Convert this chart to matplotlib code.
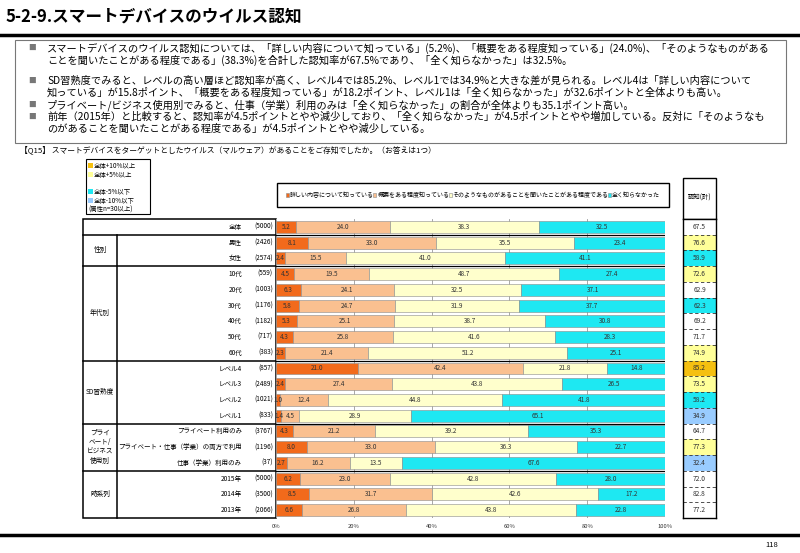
import matplotlib
matplotlib.use('Agg')
import matplotlib.pyplot as plt
from matplotlib.patches import Rectangle
from matplotlib.lines import Line2D

plt.rcParams['font.family'] = ['Noto Sans CJK JP', 'DejaVu Sans']

# ---------------- data ----------------
title = '5-2-9.スマートデバイスのウイルス認知'
bullet_lines = [
    ['スマートデバイスのウイルス認知については、「詳しい内容について知っている」(5.2%)、「概要をある程度知っている」(24.0%)、「そのようなものがある',
     'ことを聞いたことがある程度である」(38.3%)を合計した認知率が67.5%であり、「全く知らなかった」は32.5%。'],
    ['SD習熟度でみると、レベルの高い層ほど認知率が高く、レベル4では85.2%、レベル1では34.9%と大きな差が見られる。レベル4は「詳しい内容について',
     '知っている」が15.8ポイント、「概要をある程度知っている」が18.2ポイント、レベル1は「全く知らなかった」が32.6ポイントと全体よりも高い。'],
    ['プライベート/ビジネス使用別でみると、仕事（学業）利用のみは「全く知らなかった」の割合が全体よりも35.1ポイント高い。'],
    ['前年（2015年）と比較すると、認知率が4.5ポイントとやや減少しており、「全く知らなかった」が4.5ポイントとやや増加している。反対に「そのようなも',
     'のがあることを聞いたことがある程度である」が4.5ポイントとやや減少している。'],
]
question = '【Q15】 スマートデバイスをターゲットとしたウイルス（マルウェア）があることをご存知でしたか。（お答えは1つ）'

series_names = ['詳しい内容について知っている', '概要をある程度知っている',
                'そのようなものがあることを聞いたことがある程度である', '全く知らなかった']
row_labels = ['全体', '男性', '女性', '10代', '20代', '30代', '40代', '50代', '60代',
              'レベル4', 'レベル3', 'レベル2', 'レベル1',
              'プライベート利用のみ', 'プライベート・仕事（学業）の両方で利用', '仕事（学業）利用のみ',
              '2015年', '2014年', '2013年']
row_n = [5000, 2426, 2574, 559, 1003, 1176, 1182, 717, 383, 857, 2489, 1021, 833,
         3767, 1196, 37, 5000, 3500, 2066]
detail = [5.2, 8.1, 2.4, 4.5, 6.3, 5.8, 5.3, 4.3, 2.3, 21.0, 2.4, 1.0, 1.4, 4.3, 8.0, 2.7, 6.2, 8.5, 6.6]
overview = [24.0, 33.0, 15.5, 19.5, 24.1, 24.7, 25.1, 25.8, 21.4, 42.4, 27.4, 12.4, 4.5, 21.2, 33.0, 16.2, 23.0, 31.7, 26.8]
heard = [38.3, 35.5, 41.0, 48.7, 32.5, 31.9, 38.7, 41.6, 51.2, 21.8, 43.8, 44.8, 28.9, 39.2, 36.3, 13.5, 42.8, 42.6, 43.8]
unaware = [32.5, 23.4, 41.1, 27.4, 37.1, 37.7, 30.8, 28.3, 25.1, 14.8, 26.5, 41.8, 65.1, 35.3, 22.7, 67.6, 28.0, 17.2, 22.8]
aware_total = [67.5, 76.6, 58.9, 72.6, 62.9, 62.3, 69.2, 71.7, 74.9, 85.2, 73.5, 58.2, 34.9,
               64.7, 77.3, 32.4, 72.0, 82.8, 77.2]
groups = [('', 0, 1), ('性別', 1, 3), ('年代別', 3, 9), ('SD習熟度', 9, 13),
          ('プライ\nベート/\nビジネス\n使用別', 13, 16), ('時系列', 16, 19)]
x_ticks = [0, 20, 40, 60, 80, 100]
legend_notes = ['全体+10%以上', '全体+5%以上', '', '全体-5%以下', '全体-10%以下', '(属性n=30以上)']

# ---------------- styles ----------------
seg_colors = ['#F26A1B', '#FAC090', '#FFFFCC', '#1EE8F2']
c_gold, c_yel, c_cyan, c_blue = '#F5C010', '#FFFF99', '#1EE8F2', '#99CCFF'
note_colors = [c_gold, c_yel, None, c_cyan, c_blue, None]

W, H = 800, 553
fig = plt.figure(figsize=(W / 100, H / 100), dpi=100)
fig.patch.set_facecolor('white')

ov = fig.add_axes([0, 0, 1, 1])
ov.set_xlim(0, W)
ov.set_ylim(H, 0)
ov.axis('off')

# title & rules
ov.text(6, 17, title, fontsize=12, fontweight='bold', va='center', ha='left')
ov.add_line(Line2D([0, W], [35, 35], color='black', lw=2.5))
ov.add_line(Line2D([0, W], [535, 535], color='black', lw=2.5))
ov.text(778, 545, '118', fontsize=5.5, ha='right', va='center')

# text box
ov.add_patch(Rectangle((15, 40), 771, 103, fill=False, ec='#777777', lw=0.8))
line_y = [[48, 60], [81, 93], [105], [117, 129]]
for lines, ys in zip(bullet_lines, line_y):
    ov.text(28, ys[0], '■', fontsize=5.5, color='#777777', va='center', ha='left')
    for t, y in zip(lines, ys):
        ov.text(47, y, t, fontsize=7.35, va='center', ha='left')
ov.text(20, 150, question, fontsize=5.6, va='center', ha='left')

# small highlight legend
ov.add_patch(Rectangle((86, 159), 64, 55, fill=False, ec='black', lw=0.8))
for i, (t, c) in enumerate(zip(legend_notes, note_colors)):
    y = 166 + i * 8.8
    if c is not None:
        ov.add_patch(Rectangle((88, y - 3), 5, 5, fc=c, ec='none'))
        ov.text(94, y, t, fontsize=4.6, va='center', ha='left')
    elif t:
        ov.text(88, y, t, fontsize=4.6, va='center', ha='left')

# ---------------- bar chart ----------------
n_rows = len(row_labels)
top_px, bot_px = 219, 518
x0_px, x1_px = 276, 665
ax = fig.add_axes([x0_px / W, 1 - bot_px / H, (x1_px - x0_px) / W, (bot_px - top_px) / H])
ax.set_ylim(n_rows - 0.5, -0.5)
ax.set_xlim(0, 100)
rows = list(range(n_rows))
series = [detail, overview, heard, unaware]
left = [0.0] * n_rows
handles = []
for vals, col, name in zip(series, seg_colors, series_names):
    b = ax.barh(rows, vals, left=left, height=0.76, color=col, edgecolor='#8a8a8a', linewidth=0.4,
                zorder=2, label=name)
    handles.append(b)
    for r, (v, l) in enumerate(zip(vals, left)):
        ax.text(l + v / 2, r, f'{v:.1f}', fontsize=4.6, ha='center', va='center', color='#333333', zorder=3)
    left = [l + v for l, v in zip(left, vals)]
ax.set_xticks(x_ticks)
ax.set_xticklabels([f'{t}%' for t in x_ticks], fontsize=4.2, color='#333333')
ax.tick_params(axis='x', length=0, pad=4)
ax.set_yticks([])
ax.grid(axis='x', color='#999999', lw=0.6, zorder=0)
ax.set_axisbelow(True)
for s in ax.spines.values():
    s.set_visible(False)
for name, g0, g1 in groups[1:]:
    ax.axhline(g0 - 0.5, color='black', lw=0.9, zorder=4)

fig.legend(handles=handles, labels=series_names, loc='center',
           bbox_to_anchor=(277 / W, 1 - 207 / H, 392 / W, 24 / H), mode='expand', ncol=4,
           fontsize=4.3, frameon=True, fancybox=False, edgecolor='black', framealpha=1,
           handlelength=0.5, handleheight=0.5, handletextpad=0.2, columnspacing=0.3,
           borderpad=1.5, borderaxespad=0)

# ---------------- left table ----------------
row_h = (bot_px - top_px) / n_rows
def row_y(i):
    return top_px + (i + 0.5) * row_h

ov.add_patch(Rectangle((83, top_px), x0_px - 83, bot_px - top_px, fill=False, ec='black', lw=1.1))
ov.add_line(Line2D([117, 117], [top_px + row_h, bot_px], color='black', lw=1.1))
for name, g0, g1 in groups[1:]:
    ov.add_line(Line2D([83, x0_px], [top_px + g0 * row_h] * 2, color='black', lw=1.1))
for name, g0, g1 in groups:
    if name:
        ov.text(100, (row_y(g0) + row_y(g1 - 1)) / 2, name, fontsize=4.8, ha='center', va='center',
                linespacing=1.25)
for i, (lab, n) in enumerate(zip(row_labels, row_n)):
    ov.text(242, row_y(i), lab, fontsize=4.7, ha='right', va='center')
    ov.text(273, row_y(i), f'({n})', fontsize=4.6, ha='right', va='center')

# ---------------- right column 認知(計) ----------------
base = aware_total[0]
def cell_color(i):
    gname = [g for g in groups if g[1] <= i < g[2]][0][0]
    if i == 0 or gname == '時系列' or row_n[i] < 30:
        return 'white'
    d = aware_total[i] - base
    if d >= 10:
        return c_gold
    if d >= 5:
        return c_yel
    if d <= -10:
        return c_blue
    if d <= -5:
        return c_cyan
    return 'white'

rx0, rx1 = 683, 716
ov.add_patch(Rectangle((rx0, 178), rx1 - rx0, top_px - 178, fill=False, ec='black', lw=1.0))
ov.text((rx0 + rx1) / 2, 198, '認知(計)', fontsize=4.6, ha='center', va='center')
axr = fig.add_axes([rx0 / W, 1 - bot_px / H, (rx1 - rx0) / W, (bot_px - top_px) / H])
axr.set_ylim(n_rows - 0.5, -0.5)
axr.set_xlim(0, 1)
axr.barh(rows, [1] * n_rows, height=1.0, color=[cell_color(i) for i in rows], edgecolor='none')
for i, v in enumerate(aware_total):
    axr.text(0.5, i, f'{v:.1f}', fontsize=4.8, ha='center', va='center', color='#333333')
for i in range(1, n_rows):
    axr.axhline(i - 0.5, color='#333333', lw=0.6, ls=(0, (4, 3)))
axr.set_xticks([])
axr.set_yticks([])
for s in axr.spines.values():
    s.set_color('black')
    s.set_linewidth(1.0)

fig.savefig('out.png', dpi=100, facecolor='white')
